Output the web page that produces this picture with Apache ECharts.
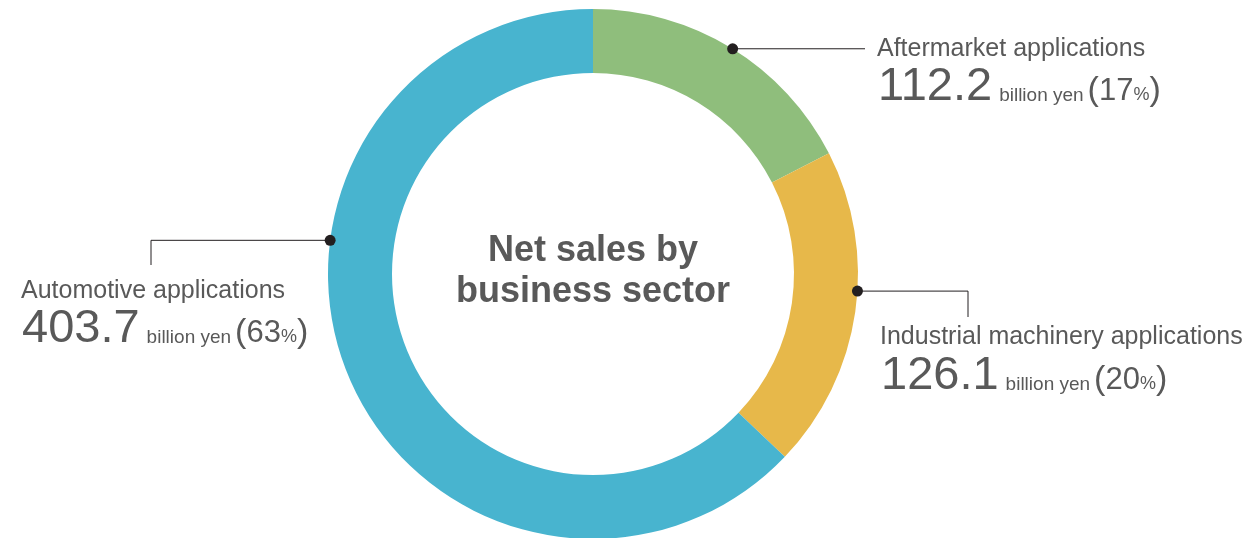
<!DOCTYPE html>
<html>
<head>
<meta charset="utf-8">
<script src="https://cdn.jsdelivr.net/npm/echarts@6/dist/echarts.min.js"></script>
<style>
  html, body { margin: 0; padding: 0; background: #ffffff; }
  #chart { width: 1244px; height: 538px; }
</style>
</head>
<body>
<div id="chart"></div>
<script>
// Net sales by business sector (billion yen), clockwise from 12 o'clock
const sectors = ['Aftermarket applications', 'Industrial machinery applications', 'Automotive applications'];
const salesBillionYen = [112.2, 126.1, 403.7];
const sharePercent = [17, 20, 63];
const centerTitle = ['Net sales by', 'business sector'];

// Ring geometry and colours
const CX = 593, CY = 274, R_IN = 201, R_OUT = 265;
const colors = ['#8fbe7c', '#e7b84a', '#48b4cf'];
const TEXT = '#595959';
const LINE = '#231f20';
const FONT = '"Liberation Sans", Arial, Helvetica, sans-serif';

// Callout layout: anchor angle on the outer rim (deg clockwise from top),
// leader elbow, and text block origin / baselines
const callouts = [
  { angle: 31.8,  path: [[865, null]],             textX: 877, labelBase: 57,  valueBase: 101 },
  { angle: 93.7,  path: [[968, null], [968, 317]], textX: 880, labelBase: 345, valueBase: 390 },
  { angle: 277.3, path: [[151, null], [151, 265]], textX: 21,  labelBase: 299, valueBase: 343 }
];

const chart = echarts.init(document.getElementById('chart'), null, { renderer: 'canvas' });

const graphics = [];
callouts.forEach(function (c, i) {
  const a = c.angle * Math.PI / 180;
  const px = CX + R_OUT * Math.sin(a);
  const py = CY - R_OUT * Math.cos(a);
  const pts = [[px, py]];
  c.path.forEach(function (p) { pts.push([p[0], p[1] === null ? py : p[1]]); });
  graphics.push({
    type: 'polyline', z: 10,
    shape: { points: pts },
    style: { stroke: LINE, lineWidth: 1, fill: null }
  });
  graphics.push({
    type: 'circle', z: 11,
    shape: { cx: px, cy: py, r: 5.5 },
    style: { fill: LINE }
  });
  graphics.push({
    type: 'text', z: 10,
    x: c.textX, y: c.labelBase + 5,
    style: {
      text: sectors[i],
      font: '400 25px ' + FONT,
      fill: TEXT,
      verticalAlign: 'bottom'
    }
  });
  graphics.push({
    type: 'text', z: 10,
    x: c.textX + 1, y: c.valueBase + 9.5,
    style: {
      text: '{num|' + salesBillionYen[i].toFixed(1) + '}{unit|billion yen}{par|(}{pct|' + sharePercent[i] + '}{pcs|%}{par|)}',
      verticalAlign: 'bottom',
      fill: TEXT,
      rich: {
        num:  { fontFamily: FONT, fontSize: 47, lineHeight: 47, color: TEXT, verticalAlign: 'bottom' },
        unit: { fontFamily: FONT, fontSize: 19, lineHeight: 19, color: TEXT, verticalAlign: 'bottom', padding: [0, 4, 5.5, 7] },
        par:  { fontFamily: FONT, fontSize: 34, lineHeight: 34, color: TEXT, verticalAlign: 'bottom', padding: [0, 0, 2.6, 0] },
        pct:  { fontFamily: FONT, fontSize: 31, lineHeight: 31, color: TEXT, verticalAlign: 'bottom', padding: [0, 0, 3.2, 0] },
        pcs:  { fontFamily: FONT, fontSize: 18, lineHeight: 18, color: TEXT, verticalAlign: 'bottom', padding: [0, 0, 6, 0] }
      }
    }
  });
});

graphics.push({
  type: 'text', z: 10,
  x: CX, y: CY - 2,
  style: {
    text: centerTitle.join('\n'),
    font: '700 36px ' + FONT,
    lineHeight: 41,
    fill: TEXT,
    align: 'center',
    verticalAlign: 'middle'
  }
});

chart.setOption({
  animation: false,
  backgroundColor: '#ffffff',
  color: colors,
  series: [{
    type: 'pie',
    silent: true,
    center: [CX, CY],
    radius: [R_IN, R_OUT],
    startAngle: 90,
    clockwise: true,
    avoidLabelOverlap: false,
    label: { show: false },
    labelLine: { show: false },
    emphasis: { disabled: true },
    itemStyle: { borderWidth: 0 },
    data: sectors.map(function (name, i) { return { name: name, value: salesBillionYen[i] }; })
  }],
  graphic: graphics
});
</script>
</body>
</html>
